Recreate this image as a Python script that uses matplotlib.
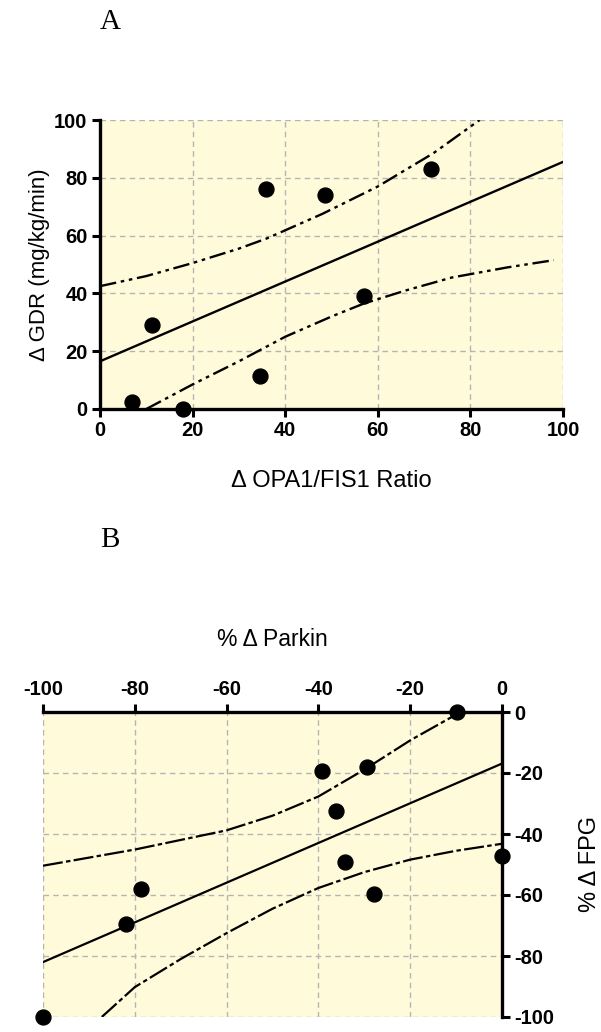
import numpy as np
import matplotlib
matplotlib.use("Agg")
from matplotlib import pyplot as plt
from matplotlib.font_manager import FontProperties

plt.rcParams['axes.unicode_minus'] = False

# Panel A: delta OPA1/FIS1 ratio vs delta GDR
a_x = [7.0, 11.2, 17.9, 34.6, 35.8, 48.5, 57.1, 71.5]
a_y = [2.5, 29.0, 0.0, 11.5, 76.0, 74.0, 39.0, 83.0]
a_fit_x = [0, 100]
a_fit_y = [16.5, 85.5]
a_up_x = [0, 10, 20, 30, 36, 48, 60, 72, 82]
a_up_y = [42.5, 46.0, 50.5, 55.5, 59.0, 67.5, 77.0, 88.5, 100.0]
a_lo_x = [10, 20, 30, 40, 50, 57, 66, 76, 88, 98]
a_lo_y = [0.0, 8.5, 16.5, 25.0, 32.0, 36.5, 41.0, 45.5, 49.0, 51.5]

# Panel B: % delta Parkin vs % delta FPG
b_x = [-9.8, -39.3, -29.5, -36.1, -34.3, -27.9, 0.0, -78.6, -82.0, -100.0]
b_y = [0.0, -19.2, -18.0, -32.3, -49.3, -59.6, -47.1, -57.9, -69.4, -100.0]
b_fit_x = [-100, 0]
b_fit_y = [-82.0, -16.9]
b_up_x = [-100, -80, -60, -50, -40, -30, -20, -9]
b_up_y = [-50.4, -45.1, -38.8, -34.0, -27.7, -18.9, -9.3, 0.0]
b_lo_x = [-87.2, -80, -70, -60, -50, -40, -30, -20, -10, 0]
b_lo_y = [-100.0, -90.2, -81.0, -72.5, -64.5, -57.7, -52.5, -48.4, -45.5, -43.2]

ticks = [0, 20, 40, 60, 80, 100]
bticks = [-100, -80, -60, -40, -20, 0]

bg = "#fffbda"
gridc = "#b4b4b4"
tickfont = FontProperties(family="Liberation Sans", weight="bold", size=14.5)

fig = plt.figure(figsize=(6.01, 10.32), dpi=100)

# ---- A ----
ax = fig.add_axes([100 / 601, 1 - 409 / 1032, 463 / 601, 289 / 1032])
ax.set_facecolor(bg)
ax.set_xlim(0, 100)
ax.set_ylim(0, 100)
ax.set_xticks(ticks)
ax.set_yticks(ticks)
ax.grid(True, color=gridc, linestyle=(0, (4, 3)), linewidth=1)
ax.set_axisbelow(True)
for s in ["top", "right"]:
    ax.spines[s].set_visible(False)
for s in ["left", "bottom"]:
    ax.spines[s].set_linewidth(2.4)
ax.tick_params(direction="out", length=6, width=2.2, pad=3)
for lab in ax.get_xticklabels() + ax.get_yticklabels():
    lab.set_fontproperties(tickfont)
ax.plot(a_fit_x, a_fit_y, color="black", lw=1.7)
ax.plot(a_up_x, a_up_y, color="black", lw=1.7, dashes=(7, 2, 1.5, 2, 1.5, 2))
ax.plot(a_lo_x, a_lo_y, color="black", lw=1.7, dashes=(7, 2, 1.5, 2, 1.5, 2))
ax.scatter(a_x, a_y, s=115, color="black", zorder=5, clip_on=False)
ax.set_xlabel("\u0394 OPA1/FIS1 Ratio", fontsize=17, family="Liberation Sans", labelpad=21)
ax.set_ylabel("\u0394 GDR (mg/kg/min)", fontsize=16, family="Liberation Sans", labelpad=3)
fig.text(100 / 601, 1 - 22 / 1032, "A", family="Liberation Serif", fontsize=21,
         ha="left", va="center")

# ---- B ----
bx = fig.add_axes([43 / 601, 1 - 1017 / 1032, 459 / 601, 305 / 1032])
bx.set_facecolor(bg)
bx.set_xlim(-100, 0)
bx.set_ylim(-100, 0)
bx.set_xticks(bticks)
bx.set_yticks(bticks)
bx.xaxis.tick_top()
bx.yaxis.tick_right()
bx.xaxis.set_label_position("top")
bx.yaxis.set_label_position("right")
bx.grid(True, color=gridc, linestyle=(0, (4, 3)), linewidth=1)
bx.set_axisbelow(True)
for s in ["bottom", "left"]:
    bx.spines[s].set_visible(False)
for s in ["top", "right"]:
    bx.spines[s].set_linewidth(2.4)
bx.tick_params(direction="out", length=6, width=2.2, pad=3)
for lab in bx.get_xticklabels() + bx.get_yticklabels():
    lab.set_fontproperties(tickfont)
bx.plot(b_fit_x, b_fit_y, color="black", lw=1.6)
bx.plot(b_up_x, b_up_y, color="black", lw=1.6, dashes=(9, 1.5, 2, 1.5))
bx.plot(b_lo_x, b_lo_y, color="black", lw=1.6, dashes=(9, 1.5, 2, 1.5))
bx.scatter(b_x, b_y, s=115, color="black", zorder=5, clip_on=False)
bx.set_xlabel("% \u0394 Parkin", fontsize=16.5, family="Liberation Sans", labelpad=25)
bx.set_ylabel("% \u0394 FPG", fontsize=17, family="Liberation Sans", labelpad=18,
              rotation=90)
fig.text(100 / 601, 1 - 540 / 1032, "B", family="Liberation Serif", fontsize=21,
         ha="left", va="center")

fig.savefig("out.png", dpi=100)
